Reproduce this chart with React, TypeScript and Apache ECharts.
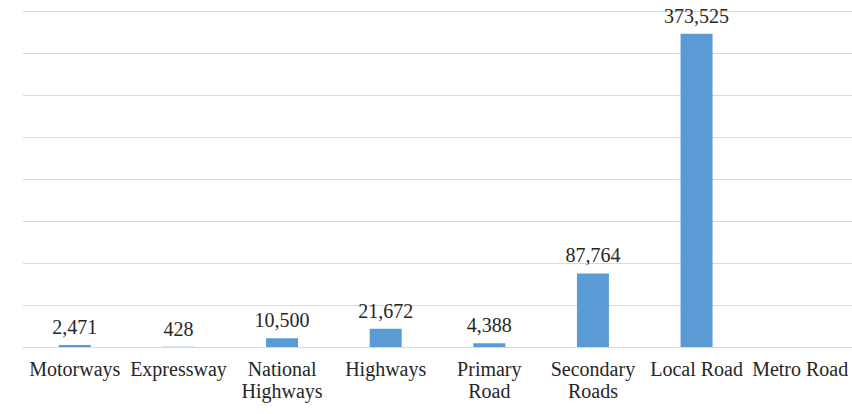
import React, { useEffect, useRef } from "react";
import * as echarts from "echarts";

const categories = [
  "Motorways",
  "Expressway",
  "National\nHighways",
  "Highways",
  "Primary\nRoad",
  "Secondary\nRoads",
  "Local Road",
  "Metro Road",
];
const values: (number | null)[] = [2471, 428, 10500, 21672, 4388, 87764, 373525, null];
const yMax = 400000;
const yInterval = 50000;

const FONT = "Liberation Serif";

export default function App() {
  const ref = useRef<HTMLDivElement>(null);
  useEffect(() => {
    if (!ref.current) return;
    const chart = echarts.init(ref.current, null, { renderer: "svg" });
    chart.setOption({
      animation: false,
      textStyle: { fontFamily: FONT },
      grid: { left: 23, right: 0, top: 11.5, bottom: 67, containLabel: false },
      xAxis: {
        type: "category",
        data: categories,
        axisLine: { show: true, lineStyle: { color: "#d9d9d9", width: 1 } },
        axisTick: { show: false },
        axisLabel: {
          interval: 0,
          color: "#262626",
          fontFamily: FONT,
          fontSize: 20,
          lineHeight: 22,
          margin: 11,
        },
      },
      yAxis: {
        type: "value",
        min: 0,
        max: yMax,
        interval: yInterval,
        axisLabel: { show: false },
        axisLine: { show: false },
        axisTick: { show: false },
        splitLine: { lineStyle: { color: "#d9d9d9", width: 1 } },
      },
      series: [
        {
          type: "bar",
          data: values,
          barWidth: 32,
          itemStyle: { color: "#5B9BD5" },
          label: {
            show: true,
            position: "top",
            distance: 8,
            color: "#262626",
            fontFamily: FONT,
            fontSize: 20,
            formatter: (p: any) =>
              p.value == null ? "" : Number(p.value).toLocaleString("en-US"),
          },
        },
      ],
    });
    return () => chart.dispose();
  }, []);
  return <div ref={ref} style={{ width: 852, height: 414, position: "absolute", left: 0, top: 0, background: "#fff" }} />;
}
